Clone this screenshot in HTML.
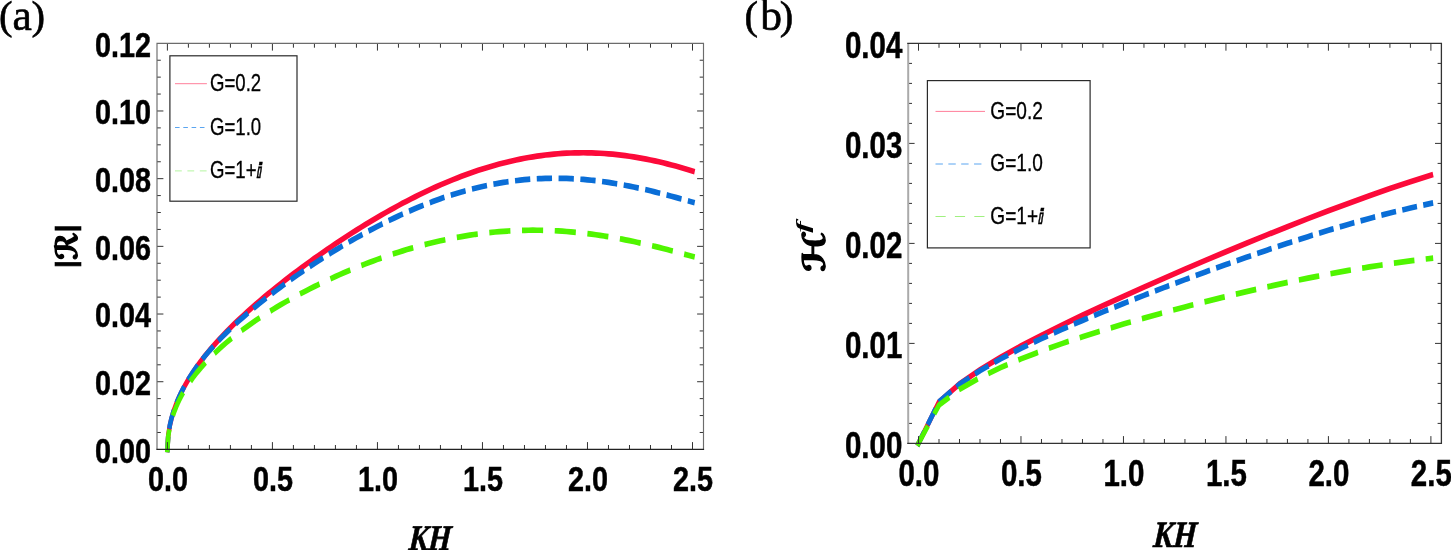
<!DOCTYPE html>
<html lang="en"><head><meta charset="utf-8"><title>Figure</title>
<style>html,body{margin:0;padding:0;background:#fff}svg{display:block}</style></head>
<body>
<svg width="1451" height="550" viewBox="0 0 1451 550">
<rect width="1451" height="550" fill="#fff"/>
<g transform="scale(0.8,1)" fill="none" stroke-width="5.7" stroke-linecap="square" stroke-linejoin="round">
<path id="a_red" d="M209.25,449.40 L210.30,435.40 L212.24,425.79 L214.18,419.09 L216.12,413.63 L218.06,408.90 L219.99,404.67 L221.93,400.81 L223.87,397.24 L225.81,393.89 L227.75,390.74 L229.69,387.75 L231.63,384.89 L233.57,382.16 L235.50,379.53 L240.76,372.86 L246.01,366.71 L251.26,360.98 L256.51,355.58 L261.76,350.45 L267.01,345.56 L272.26,340.86 L277.51,336.34 L282.76,331.97 L288.01,327.72 L293.27,323.60 L298.52,319.59 L303.77,315.66 L309.02,311.83 L314.27,308.07 L319.52,304.39 L324.77,300.77 L330.02,297.22 L335.27,293.72 L340.52,290.28 L345.78,286.89 L351.03,283.55 L356.28,280.26 L361.53,277.00 L366.78,273.80 L372.03,270.63 L377.28,267.50 L382.53,264.41 L387.78,261.35 L393.03,258.34 L398.29,255.36 L403.54,252.41 L408.79,249.50 L414.04,246.63 L419.29,243.79 L424.54,240.98 L429.79,238.21 L435.04,235.48 L440.29,232.78 L445.55,230.12 L450.80,227.49 L456.05,224.89 L461.30,222.34 L466.55,219.82 L471.80,217.33 L477.05,214.89 L482.30,212.48 L487.55,210.11 L492.80,207.78 L498.06,205.49 L503.31,203.24 L508.56,201.04 L513.81,198.87 L519.06,196.74 L524.31,194.66 L529.56,192.62 L534.81,190.63 L540.06,188.68 L545.31,186.78 L550.56,184.92 L555.82,183.11 L561.07,181.34 L566.32,179.63 L571.57,177.96 L576.82,176.34 L582.07,174.77 L587.32,173.25 L592.57,171.78 L597.82,170.36 L603.08,169.00 L608.33,167.69 L613.58,166.43 L618.83,165.22 L624.08,164.07 L629.33,162.97 L634.58,161.92 L639.83,160.93 L645.08,160.00 L650.33,159.12 L655.59,158.30 L660.84,157.53 L666.09,156.82 L671.34,156.17 L676.59,155.57 L681.84,155.03 L687.09,154.55 L692.34,154.13 L697.59,153.76 L702.84,153.45 L708.09,153.20 L713.35,153.01 L718.60,152.87 L723.85,152.79 L729.10,152.77 L734.35,152.81 L739.60,152.90 L744.85,153.05 L750.10,153.26 L755.35,153.52 L760.61,153.83 L765.86,154.21 L771.11,154.64 L776.36,155.12 L781.61,155.65 L786.86,156.24 L792.11,156.89 L797.36,157.58 L802.61,158.33 L807.86,159.12 L813.12,159.97 L818.37,160.86 L823.62,161.81 L828.87,162.80 L834.12,163.84 L839.37,164.92 L844.62,166.05 L849.87,167.22 L855.12,168.43 L860.37,169.69 L865.62,170.98" stroke="#fc0a3a"/>
<path id="a_blue" d="M209.25,449.40 L210.30,435.26 L212.24,425.56 L214.18,418.82 L216.12,413.33 L218.06,408.58 L219.99,404.35 L221.93,400.49 L223.87,396.92 L225.81,393.58 L227.75,390.44 L229.69,387.47 L231.63,384.64 L233.57,381.93 L235.50,379.33 L240.76,372.74 L246.01,366.69 L251.26,361.07 L256.51,355.80 L261.76,350.80 L267.01,346.05 L272.26,341.51 L277.51,337.14 L282.76,332.92 L288.01,328.85 L293.27,324.90 L298.52,321.06 L303.77,317.31 L309.02,313.66 L314.27,310.09 L319.52,306.60 L324.77,303.18 L330.02,299.82 L335.27,296.52 L340.52,293.28 L345.78,290.10 L351.03,286.96 L356.28,283.88 L361.53,280.84 L366.78,277.84 L372.03,274.89 L377.28,271.99 L382.53,269.12 L387.78,266.29 L393.03,263.51 L398.29,260.76 L403.54,258.05 L408.79,255.38 L414.04,252.75 L419.29,250.16 L424.54,247.61 L429.79,245.09 L435.04,242.61 L440.29,240.17 L445.55,237.77 L450.80,235.41 L456.05,233.09 L461.30,230.81 L466.55,228.57 L471.80,226.38 L477.05,224.22 L482.30,222.10 L487.55,220.03 L492.80,218.01 L498.06,216.02 L503.31,214.08 L508.56,212.19 L513.81,210.34 L519.06,208.54 L524.31,206.78 L529.56,205.08 L534.81,203.42 L540.06,201.81 L545.31,200.25 L550.56,198.74 L555.82,197.28 L561.07,195.87 L566.32,194.51 L571.57,193.20 L576.82,191.95 L582.07,190.75 L587.32,189.60 L592.57,188.51 L597.82,187.47 L603.08,186.49 L608.33,185.56 L613.58,184.68 L618.83,183.87 L624.08,183.10 L629.33,182.39 L634.58,181.74 L639.83,181.15 L645.08,180.61 L650.33,180.12 L655.59,179.69 L660.84,179.32 L666.09,179.01 L671.34,178.75 L676.59,178.54 L681.84,178.39 L687.09,178.30 L692.34,178.25 L697.59,178.27 L702.84,178.34 L708.09,178.46 L713.35,178.63 L718.60,178.86 L723.85,179.13 L729.10,179.46 L734.35,179.84 L739.60,180.27 L744.85,180.74 L750.10,181.27 L755.35,181.84 L760.61,182.45 L765.86,183.11 L771.11,183.81 L776.36,184.56 L781.61,185.34 L786.86,186.17 L792.11,187.03 L797.36,187.93 L802.61,188.86 L807.86,189.83 L813.12,190.82 L818.37,191.85 L823.62,192.91 L828.87,193.99 L834.12,195.09 L839.37,196.22 L844.62,197.37 L849.87,198.53 L855.12,199.72 L860.37,200.91 L865.62,202.12" stroke="#0a6ed7" stroke-dasharray="13.40 13.85" stroke-dashoffset="3.4"/>
<path id="a_green" d="M209.25,449.40 L210.30,436.12 L212.24,427.03 L214.18,420.72 L216.12,415.60 L218.06,411.17 L219.99,407.23 L221.93,403.64 L223.87,400.33 L225.81,397.25 L227.75,394.35 L229.69,391.61 L231.63,389.01 L233.57,386.52 L235.50,384.14 L240.76,378.13 L246.01,372.65 L251.26,367.59 L256.51,362.87 L261.76,358.43 L267.01,354.23 L272.26,350.24 L277.51,346.43 L282.76,342.78 L288.01,339.28 L293.27,335.90 L298.52,332.64 L303.77,329.48 L309.02,326.43 L314.27,323.46 L319.52,320.57 L324.77,317.76 L330.02,315.02 L335.27,312.35 L340.52,309.74 L345.78,307.18 L351.03,304.69 L356.28,302.25 L361.53,299.86 L366.78,297.52 L372.03,295.23 L377.28,292.98 L382.53,290.78 L387.78,288.62 L393.03,286.50 L398.29,284.42 L403.54,282.38 L408.79,280.39 L414.04,278.43 L419.29,276.51 L424.54,274.63 L429.79,272.78 L435.04,270.98 L440.29,269.21 L445.55,267.48 L450.80,265.78 L456.05,264.12 L461.30,262.50 L466.55,260.92 L471.80,259.37 L477.05,257.86 L482.30,256.39 L487.55,254.96 L492.80,253.56 L498.06,252.20 L503.31,250.88 L508.56,249.60 L513.81,248.36 L519.06,247.16 L524.31,245.99 L529.56,244.87 L534.81,243.78 L540.06,242.74 L545.31,241.73 L550.56,240.77 L555.82,239.84 L561.07,238.96 L566.32,238.12 L571.57,237.32 L576.82,236.56 L582.07,235.85 L587.32,235.17 L592.57,234.54 L597.82,233.95 L603.08,233.41 L608.33,232.90 L613.58,232.44 L618.83,232.02 L624.08,231.65 L629.33,231.32 L634.58,231.03 L639.83,230.79 L645.08,230.59 L650.33,230.43 L655.59,230.31 L660.84,230.24 L666.09,230.21 L671.34,230.23 L676.59,230.28 L681.84,230.38 L687.09,230.52 L692.34,230.70 L697.59,230.93 L702.84,231.19 L708.09,231.50 L713.35,231.85 L718.60,232.23 L723.85,232.66 L729.10,233.13 L734.35,233.63 L739.60,234.17 L744.85,234.76 L750.10,235.37 L755.35,236.03 L760.61,236.71 L765.86,237.44 L771.11,238.19 L776.36,238.98 L781.61,239.81 L786.86,240.66 L792.11,241.54 L797.36,242.45 L802.61,243.40 L807.86,244.36 L813.12,245.36 L818.37,246.38 L823.62,247.42 L828.87,248.48 L834.12,249.57 L839.37,250.67 L844.62,251.79 L849.87,252.93 L855.12,254.09 L860.37,255.25 L865.62,256.43" stroke="#50f500" stroke-dasharray="20.70 20.22" stroke-dashoffset="3.4"/>
</g>
<g transform="scale(0.8,1)" fill="none" stroke-width="5.7" stroke-linecap="square" stroke-linejoin="miter">
<path id="b_red" d="M1148.12,443.40 L1173.74,401.88 L1199.36,384.01 L1224.98,369.81 L1250.61,357.37 L1276.22,345.99 L1301.85,335.31 L1327.46,325.11 L1353.09,315.26 L1378.70,305.69 L1404.33,296.32 L1429.95,287.13 L1455.56,278.09 L1481.18,269.18 L1506.80,260.41 L1532.42,251.77 L1558.05,243.26 L1583.66,234.89 L1609.29,226.69 L1634.90,218.65 L1660.53,210.80 L1686.15,203.16 L1711.76,195.75 L1737.38,188.60 L1763.00,181.73 L1788.62,175.16" stroke="#fc0a3a"/>
<path id="b_blue" d="M1148.12,443.40 L1173.74,401.76 L1199.36,384.31 L1224.98,370.70 L1250.61,358.99 L1276.22,348.42 L1301.85,338.61 L1327.46,329.32 L1353.09,320.44 L1378.70,311.85 L1404.33,303.51 L1429.95,295.37 L1455.56,287.40 L1481.18,279.61 L1506.80,271.98 L1532.42,264.52 L1558.05,257.24 L1583.66,250.16 L1609.29,243.28 L1634.90,236.64 L1660.53,230.26 L1686.15,224.17 L1711.76,218.41 L1737.38,213.00 L1763.00,207.98 L1788.62,203.39" stroke="#0a6ed7" stroke-dasharray="13.00 13.65" stroke-dashoffset="1.8"/>
<path id="b_green" d="M1148.12,443.40 L1173.74,405.07 L1199.36,389.46 L1224.98,377.61 L1250.61,367.66 L1276.22,358.90 L1301.85,350.96 L1327.46,343.63 L1353.09,336.76 L1378.70,330.26 L1404.33,324.06 L1429.95,318.12 L1455.56,312.42 L1481.18,306.92 L1506.80,301.63 L1532.42,296.53 L1558.05,291.63 L1583.66,286.93 L1609.29,282.44 L1634.90,278.18 L1660.53,274.16 L1686.15,270.39 L1711.76,266.91 L1737.38,263.72 L1763.00,260.86 L1788.62,258.36" stroke="#50f500" stroke-dasharray="20.10 19.90" stroke-dashoffset="1.8"/>
</g>
<g id="panelA">
<path d="M167.40,449.4v-7.3M167.40,43.3v7.3M188.40,449.4v-4.4M188.40,43.3v4.4M209.41,449.4v-4.4M209.41,43.3v4.4M230.41,449.4v-4.4M230.41,43.3v4.4M251.42,449.4v-4.4M251.42,43.3v4.4M272.42,449.4v-7.3M272.42,43.3v7.3M293.42,449.4v-4.4M293.42,43.3v4.4M314.43,449.4v-4.4M314.43,43.3v4.4M335.43,449.4v-4.4M335.43,43.3v4.4M356.44,449.4v-4.4M356.44,43.3v4.4M377.44,449.4v-7.3M377.44,43.3v7.3M398.44,449.4v-4.4M398.44,43.3v4.4M419.45,449.4v-4.4M419.45,43.3v4.4M440.45,449.4v-4.4M440.45,43.3v4.4M461.46,449.4v-4.4M461.46,43.3v4.4M482.46,449.4v-7.3M482.46,43.3v7.3M503.46,449.4v-4.4M503.46,43.3v4.4M524.47,449.4v-4.4M524.47,43.3v4.4M545.47,449.4v-4.4M545.47,43.3v4.4M566.48,449.4v-4.4M566.48,43.3v4.4M587.48,449.4v-7.3M587.48,43.3v7.3M608.48,449.4v-4.4M608.48,43.3v4.4M629.49,449.4v-4.4M629.49,43.3v4.4M650.49,449.4v-4.4M650.49,43.3v4.4M671.50,449.4v-4.4M671.50,43.3v4.4M692.50,449.4v-7.3M692.50,43.3v7.3M157.0,432.48h3.8M703.5,432.48h-3.8M157.0,415.56h3.8M703.5,415.56h-3.8M157.0,398.64h3.8M703.5,398.64h-3.8M157.0,381.72h6.4M703.5,381.72h-6.4M157.0,364.80h3.8M703.5,364.80h-3.8M157.0,347.88h3.8M703.5,347.88h-3.8M157.0,330.95h3.8M703.5,330.95h-3.8M157.0,314.03h6.4M703.5,314.03h-6.4M157.0,297.11h3.8M703.5,297.11h-3.8M157.0,280.19h3.8M703.5,280.19h-3.8M157.0,263.27h3.8M703.5,263.27h-3.8M157.0,246.35h6.4M703.5,246.35h-6.4M157.0,229.43h3.8M703.5,229.43h-3.8M157.0,212.51h3.8M703.5,212.51h-3.8M157.0,195.59h3.8M703.5,195.59h-3.8M157.0,178.67h6.4M703.5,178.67h-6.4M157.0,161.75h3.8M703.5,161.75h-3.8M157.0,144.82h3.8M703.5,144.82h-3.8M157.0,127.90h3.8M703.5,127.90h-3.8M157.0,110.98h6.4M703.5,110.98h-6.4M157.0,94.06h3.8M703.5,94.06h-3.8M157.0,77.14h3.8M703.5,77.14h-3.8M157.0,60.22h3.8M703.5,60.22h-3.8" stroke="#333" stroke-width="1" fill="none"/>
<path d="M157.0,449.4V43.3H703.5V449.4" stroke="#6c6c6c" stroke-width="1.15" fill="none"/>
<path d="M156.4,449.4H704.1" stroke="#222" stroke-width="1.3" fill="none"/>
</g>
<g id="panelB">
<path d="M918.50,443.4v-7.3M918.50,43.4v7.3M939.00,443.4v-4.4M939.00,43.4v4.4M959.49,443.4v-4.4M959.49,43.4v4.4M979.99,443.4v-4.4M979.99,43.4v4.4M1000.48,443.4v-4.4M1000.48,43.4v4.4M1020.98,443.4v-7.3M1020.98,43.4v7.3M1041.48,443.4v-4.4M1041.48,43.4v4.4M1061.97,443.4v-4.4M1061.97,43.4v4.4M1082.47,443.4v-4.4M1082.47,43.4v4.4M1102.96,443.4v-4.4M1102.96,43.4v4.4M1123.46,443.4v-7.3M1123.46,43.4v7.3M1143.96,443.4v-4.4M1143.96,43.4v4.4M1164.45,443.4v-4.4M1164.45,43.4v4.4M1184.95,443.4v-4.4M1184.95,43.4v4.4M1205.44,443.4v-4.4M1205.44,43.4v4.4M1225.94,443.4v-7.3M1225.94,43.4v7.3M1246.44,443.4v-4.4M1246.44,43.4v4.4M1266.93,443.4v-4.4M1266.93,43.4v4.4M1287.43,443.4v-4.4M1287.43,43.4v4.4M1307.92,443.4v-4.4M1307.92,43.4v4.4M1328.42,443.4v-7.3M1328.42,43.4v7.3M1348.92,443.4v-4.4M1348.92,43.4v4.4M1369.41,443.4v-4.4M1369.41,43.4v4.4M1389.91,443.4v-4.4M1389.91,43.4v4.4M1410.40,443.4v-4.4M1410.40,43.4v4.4M1430.90,443.4v-7.3M1430.90,43.4v7.3M908.2,423.40h3.8M1441.4,423.40h-3.8M908.2,403.40h3.8M1441.4,403.40h-3.8M908.2,383.40h3.8M1441.4,383.40h-3.8M908.2,363.40h3.8M1441.4,363.40h-3.8M908.2,343.40h6.4M1441.4,343.40h-6.4M908.2,323.40h3.8M1441.4,323.40h-3.8M908.2,303.40h3.8M1441.4,303.40h-3.8M908.2,283.40h3.8M1441.4,283.40h-3.8M908.2,263.40h3.8M1441.4,263.40h-3.8M908.2,243.40h6.4M1441.4,243.40h-6.4M908.2,223.40h3.8M1441.4,223.40h-3.8M908.2,203.40h3.8M1441.4,203.40h-3.8M908.2,183.40h3.8M1441.4,183.40h-3.8M908.2,163.40h3.8M1441.4,163.40h-3.8M908.2,143.40h6.4M1441.4,143.40h-6.4M908.2,123.40h3.8M1441.4,123.40h-3.8M908.2,103.40h3.8M1441.4,103.40h-3.8M908.2,83.40h3.8M1441.4,83.40h-3.8M908.2,63.40h3.8M1441.4,63.40h-3.8" stroke="#333" stroke-width="1" fill="none"/>
<path d="M908.2,443.4V43.4" stroke="#aaa" stroke-width="2" fill="none"/>
<path d="M907.2,43.4H1441.4V443.4H907.2" stroke="#333" stroke-width="1.3" fill="none"/>
</g>
<text transform="translate(151.00,462.80) scale(0.8,1)" font-family="&quot;Liberation Sans&quot;, sans-serif" font-size="36.0" font-weight="bold" font-style="normal" text-anchor="end" fill="#000" stroke="#000" stroke-width="0.5">0.00</text>
<text transform="translate(151.00,395.12) scale(0.8,1)" font-family="&quot;Liberation Sans&quot;, sans-serif" font-size="36.0" font-weight="bold" font-style="normal" text-anchor="end" fill="#000" stroke="#000" stroke-width="0.5">0.02</text>
<text transform="translate(151.00,327.43) scale(0.8,1)" font-family="&quot;Liberation Sans&quot;, sans-serif" font-size="36.0" font-weight="bold" font-style="normal" text-anchor="end" fill="#000" stroke="#000" stroke-width="0.5">0.04</text>
<text transform="translate(151.00,259.75) scale(0.8,1)" font-family="&quot;Liberation Sans&quot;, sans-serif" font-size="36.0" font-weight="bold" font-style="normal" text-anchor="end" fill="#000" stroke="#000" stroke-width="0.5">0.06</text>
<text transform="translate(151.00,192.07) scale(0.8,1)" font-family="&quot;Liberation Sans&quot;, sans-serif" font-size="36.0" font-weight="bold" font-style="normal" text-anchor="end" fill="#000" stroke="#000" stroke-width="0.5">0.08</text>
<text transform="translate(151.00,124.38) scale(0.8,1)" font-family="&quot;Liberation Sans&quot;, sans-serif" font-size="36.0" font-weight="bold" font-style="normal" text-anchor="end" fill="#000" stroke="#000" stroke-width="0.5">0.10</text>
<text transform="translate(151.00,56.70) scale(0.8,1)" font-family="&quot;Liberation Sans&quot;, sans-serif" font-size="36.0" font-weight="bold" font-style="normal" text-anchor="end" fill="#000" stroke="#000" stroke-width="0.5">0.12</text>
<text transform="translate(168.00,491.20) scale(0.8,1)" font-family="&quot;Liberation Sans&quot;, sans-serif" font-size="36.0" font-weight="bold" font-style="normal" text-anchor="middle" fill="#000" stroke="#000" stroke-width="0.5">0.0</text>
<text transform="translate(273.02,491.20) scale(0.8,1)" font-family="&quot;Liberation Sans&quot;, sans-serif" font-size="36.0" font-weight="bold" font-style="normal" text-anchor="middle" fill="#000" stroke="#000" stroke-width="0.5">0.5</text>
<text transform="translate(378.04,491.20) scale(0.8,1)" font-family="&quot;Liberation Sans&quot;, sans-serif" font-size="36.0" font-weight="bold" font-style="normal" text-anchor="middle" fill="#000" stroke="#000" stroke-width="0.5">1.0</text>
<text transform="translate(483.06,491.20) scale(0.8,1)" font-family="&quot;Liberation Sans&quot;, sans-serif" font-size="36.0" font-weight="bold" font-style="normal" text-anchor="middle" fill="#000" stroke="#000" stroke-width="0.5">1.5</text>
<text transform="translate(588.08,491.20) scale(0.8,1)" font-family="&quot;Liberation Sans&quot;, sans-serif" font-size="36.0" font-weight="bold" font-style="normal" text-anchor="middle" fill="#000" stroke="#000" stroke-width="0.5">2.0</text>
<text transform="translate(693.10,491.20) scale(0.8,1)" font-family="&quot;Liberation Sans&quot;, sans-serif" font-size="36.0" font-weight="bold" font-style="normal" text-anchor="middle" fill="#000" stroke="#000" stroke-width="0.5">2.5</text>
<text transform="translate(902.30,457.90) scale(0.803,1)" font-family="&quot;Liberation Sans&quot;, sans-serif" font-size="36.7" font-weight="bold" font-style="normal" text-anchor="end" fill="#000" stroke="#000" stroke-width="0.5">0.00</text>
<text transform="translate(902.30,357.90) scale(0.803,1)" font-family="&quot;Liberation Sans&quot;, sans-serif" font-size="36.7" font-weight="bold" font-style="normal" text-anchor="end" fill="#000" stroke="#000" stroke-width="0.5">0.01</text>
<text transform="translate(902.30,257.90) scale(0.803,1)" font-family="&quot;Liberation Sans&quot;, sans-serif" font-size="36.7" font-weight="bold" font-style="normal" text-anchor="end" fill="#000" stroke="#000" stroke-width="0.5">0.02</text>
<text transform="translate(902.30,157.90) scale(0.803,1)" font-family="&quot;Liberation Sans&quot;, sans-serif" font-size="36.7" font-weight="bold" font-style="normal" text-anchor="end" fill="#000" stroke="#000" stroke-width="0.5">0.03</text>
<text transform="translate(902.30,57.90) scale(0.803,1)" font-family="&quot;Liberation Sans&quot;, sans-serif" font-size="36.7" font-weight="bold" font-style="normal" text-anchor="end" fill="#000" stroke="#000" stroke-width="0.5">0.04</text>
<text transform="translate(918.95,486.20) scale(0.803,1)" font-family="&quot;Liberation Sans&quot;, sans-serif" font-size="36.7" font-weight="bold" font-style="normal" text-anchor="middle" fill="#000" stroke="#000" stroke-width="0.5">0.0</text>
<text transform="translate(1021.43,486.20) scale(0.803,1)" font-family="&quot;Liberation Sans&quot;, sans-serif" font-size="36.7" font-weight="bold" font-style="normal" text-anchor="middle" fill="#000" stroke="#000" stroke-width="0.5">0.5</text>
<text transform="translate(1123.91,486.20) scale(0.803,1)" font-family="&quot;Liberation Sans&quot;, sans-serif" font-size="36.7" font-weight="bold" font-style="normal" text-anchor="middle" fill="#000" stroke="#000" stroke-width="0.5">1.0</text>
<text transform="translate(1226.39,486.20) scale(0.803,1)" font-family="&quot;Liberation Sans&quot;, sans-serif" font-size="36.7" font-weight="bold" font-style="normal" text-anchor="middle" fill="#000" stroke="#000" stroke-width="0.5">1.5</text>
<text transform="translate(1328.87,486.20) scale(0.803,1)" font-family="&quot;Liberation Sans&quot;, sans-serif" font-size="36.7" font-weight="bold" font-style="normal" text-anchor="middle" fill="#000" stroke="#000" stroke-width="0.5">2.0</text>
<text transform="translate(1431.35,486.20) scale(0.803,1)" font-family="&quot;Liberation Sans&quot;, sans-serif" font-size="36.7" font-weight="bold" font-style="normal" text-anchor="middle" fill="#000" stroke="#000" stroke-width="0.5">2.5</text>
<text font-family="&quot;Liberation Serif&quot;, serif" fill="#000" stroke="#000" stroke-width="0.6"><tspan x="-0.9" y="28.6" font-size="40.7">(</tspan><tspan x="12.4" y="30" font-size="43.5">a</tspan><tspan x="31.5" y="28.6" font-size="40.7">)</tspan></text>
<text font-family="&quot;Liberation Serif&quot;, serif" fill="#000" stroke="#000" stroke-width="0.6"><tspan x="744.6" y="28.6" font-size="40.7">(</tspan><tspan x="760.3" y="30" font-size="43.5">b</tspan><tspan x="779.7" y="28.6" font-size="40.7">)</tspan></text>
<text transform="translate(429.5,549.6) skewX(-4) scale(0.82,1)" font-size="36" font-family="&quot;Liberation Serif&quot;, serif" font-weight="bold" font-style="italic" text-anchor="middle" fill="#000" stroke="#000" stroke-width="0.7">KH</text>
<text transform="translate(1174.4,546.5) skewX(-4) scale(0.808,1)" font-size="37.2" font-family="&quot;Liberation Serif&quot;, serif" font-weight="bold" font-style="italic" text-anchor="middle" fill="#000" stroke="#000" stroke-width="0.7">KH</text>
<text transform="translate(74.7,268.0) rotate(-90)" font-family="&quot;Liberation Sans&quot;, sans-serif" font-weight="bold" font-size="28.1" fill="#000" stroke="#000" stroke-width="0.6">|</text>
<text transform="translate(76.7,259.8) rotate(-90)" font-family="&quot;DejaVu Sans&quot;, sans-serif" font-weight="bold" fill="#000" stroke="#000" stroke-linejoin="round" font-size="29.2" stroke-width="1.3">ℛ</text>
<text transform="translate(74.7,232.2) rotate(-90)" font-family="&quot;Liberation Sans&quot;, sans-serif" font-weight="bold" font-size="28.1" fill="#000" stroke="#000" stroke-width="0.6">|</text>
<text transform="translate(825.2,271.7) rotate(-90) scale(1.19,1)" font-family="&quot;DejaVu Sans&quot;, sans-serif" font-weight="bold" fill="#000" stroke="#000" stroke-linejoin="round" font-size="31.2" stroke-width="1.3">ℋ</text>
<text transform="translate(808.8,232.7) rotate(-90) scale(1.85,1)" font-family="&quot;Liberation Serif&quot;, serif" font-style="italic" font-weight="bold" font-size="18.5" fill="#000">f</text>
<rect x="169.9" y="55.8" width="127.1" height="145.39999999999998" fill="#fff" stroke="#2a2a2a" stroke-width="1.2"/><path d="M175.0,83.7H206.9" stroke="#ff7f9a" stroke-width="1" fill="none"/><text transform="translate(210.00,91.00) scale(0.802,1)" font-family="&quot;Liberation Sans&quot;, sans-serif" font-size="23.2" font-weight="normal" font-style="normal" text-anchor="start" fill="#000" stroke="#000" stroke-width="0.3">G=0.2</text><path d="M175.0,127.5H206.9" stroke="#5aa5f0" stroke-width="1" stroke-dasharray="4.6 3.7" fill="none"/><text transform="translate(210.00,134.70) scale(0.802,1)" font-family="&quot;Liberation Sans&quot;, sans-serif" font-size="23.2" font-weight="normal" font-style="normal" text-anchor="start" fill="#000" stroke="#000" stroke-width="0.3">G=1.0</text><path d="M175.0,170.9H206.9" stroke="#b4f5a0" stroke-width="1" stroke-dasharray="6.8 5.6" fill="none"/><text transform="translate(210.00,177.70) scale(0.802,1)" font-family="&quot;Liberation Sans&quot;, sans-serif" font-size="23.2" font-weight="normal" font-style="normal" text-anchor="start" fill="#000" stroke="#000" stroke-width="0.3">G=1+<tspan font-family="&quot;DejaVu Sans&quot;, sans-serif" font-style="italic" font-weight="bold" font-size="21" stroke-width="0.5">ⅈ</tspan></text>
<rect x="927.4" y="80.6" width="162.69999999999993" height="167.3" fill="#fff" stroke="#2a2a2a" stroke-width="1.2"/><path d="M935.5,111.4H985.0" stroke="#ff7f9a" stroke-width="1" fill="none"/><text transform="translate(990.30,118.70) scale(0.823,1)" font-family="&quot;Liberation Sans&quot;, sans-serif" font-size="23.2" font-weight="normal" font-style="normal" text-anchor="start" fill="#000" stroke="#000" stroke-width="0.3">G=0.2</text><path d="M935.5,164.0H985.0" stroke="#5aa5f0" stroke-width="1" stroke-dasharray="7.4 5.45" fill="none"/><text transform="translate(990.30,171.30) scale(0.823,1)" font-family="&quot;Liberation Sans&quot;, sans-serif" font-size="23.2" font-weight="normal" font-style="normal" text-anchor="start" fill="#000" stroke="#000" stroke-width="0.3">G=1.0</text><path d="M935.5,216.5H985.0" stroke="#a0f080" stroke-width="1" stroke-dasharray="10.2 9.2" fill="none"/><text transform="translate(990.30,223.80) scale(0.823,1)" font-family="&quot;Liberation Sans&quot;, sans-serif" font-size="23.2" font-weight="normal" font-style="normal" text-anchor="start" fill="#000" stroke="#000" stroke-width="0.3">G=1+<tspan font-family="&quot;DejaVu Sans&quot;, sans-serif" font-style="italic" font-weight="bold" font-size="21" stroke-width="0.5">ⅈ</tspan></text>
</svg>
</body></html>
